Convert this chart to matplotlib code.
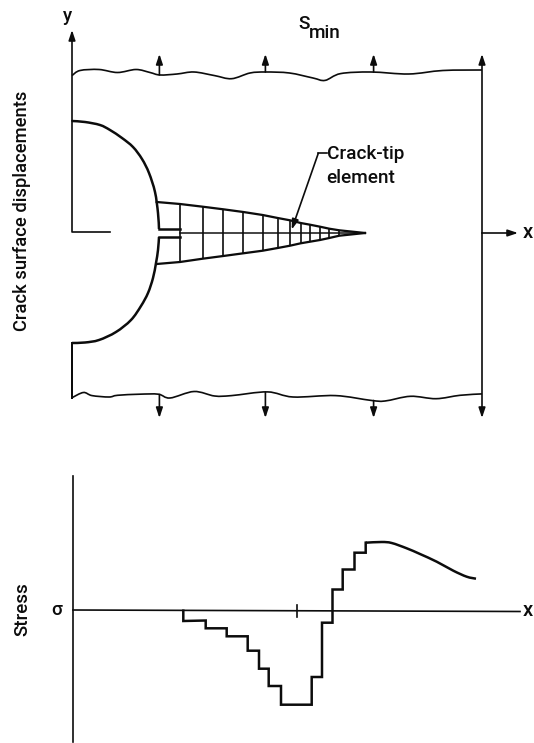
import matplotlib
matplotlib.use('Agg')
import matplotlib.pyplot as plt
from matplotlib.patches import PathPatch
from matplotlib.path import Path
import numpy as np

plt.rcParams['font.family'] = ['Roboto', 'DejaVu Sans']

# everything in pixel coordinates
top_wave_x = [72, 80, 99, 117.5, 136, 150, 160, 177, 194, 214.6, 231.6, 250, 265.7, 289.5, 313, 325, 340.6, 371, 408.7, 442.8, 482]
top_wave_y = [75.6, 70.5, 69.5, 72.5, 69.5, 72.5, 75, 74, 72, 75.6, 78.7, 73, 72, 73, 78, 80.4, 73.6, 72, 74, 70.5, 70]
bot_wave_x = [72, 83.4, 92, 109, 117.5, 139.6, 158.4, 170, 194, 214.6, 231.6, 267.4, 293, 335.5, 371, 385, 410.4, 436, 460, 482]
bot_wave_y = [397.7, 392.5, 395.6, 397, 395.3, 394.2, 394.2, 398, 391.5, 396, 395.6, 391.9, 397, 395.6, 400.4, 401, 396.3, 398.7, 395.3, 393.9]

hole_up_x = [72, 85, 100, 110, 122, 133, 142, 149, 155, 158, 159]
hole_up_y = [121, 122, 125, 130, 138, 147, 159, 173, 192, 213, 229]
hole_lo_x = [159, 158, 156, 153, 148, 141, 131, 116, 99, 85, 72]
hole_lo_y = [237, 250, 263, 278, 293, 306, 320, 332, 340, 342.5, 343]

# mesh nodes along the crack-tip wedge
mesh_x = [156.7, 180, 202.7, 223.3, 243.3, 262.7, 277.7, 290, 300.7, 310, 320, 329.3, 339.3, 365]
mesh_top = [202, 204, 206.7, 209.3, 212, 215, 218, 220.3, 223, 224.7, 226.7, 228.7, 230.3, 233]
mesh_bot = [264, 262, 258.7, 256, 253.3, 250.7, 248, 245.7, 243.3, 241.7, 240, 238, 235.7, 233]

load_x = [159.4, 265.4, 373.6]

# stepped part, then the smooth tail
step_x = [183.3, 183.3, 205.7, 205.7, 226.7, 226.7, 247.7, 247.7, 259, 259, 268.7, 268.7, 281, 281,
          311.7, 311.7, 322, 322, 332.5, 332.5, 342.7, 342.7, 354.5, 354.5, 365.7, 365.7]
step_y = [610.7, 621, 620.5, 628.3, 628.3, 636.3, 636.3, 650.7, 650.7, 668.7, 668.7, 686, 686, 704.7,
          704.7, 677, 677, 622.7, 622.7, 589.5, 589.5, 569.5, 569.5, 552.7, 552.7, 542.7]
tail_x = [365.7, 381.7, 391.7, 406.7, 420, 436.7, 453.3, 466.7, 476]
tail_y = [542.7, 542, 543, 548.3, 554, 561.7, 570.7, 576.7, 578.7]

clr = '#0c0c0c'
lwThin = 1.2
lwBold = 1.8

fig = plt.figure(figsize=(5.34, 7.43), dpi=100)
ax = fig.add_axes([0, 0, 1, 1])
ax.set_xlim(0, 534)
ax.set_ylim(743, 0)
ax.axis('off')


def arrow(x0, y0, x1, y1):
    ax.annotate('', xy=(x1, y1), xytext=(x0, y0),
                arrowprops=dict(arrowstyle='-|>,head_length=0.6,head_width=0.2', color=clr,
                                lw=lwThin, shrinkA=0, shrinkB=0))


def smooth(xs, ys, lw):
    # catmull-rom through the read points, as bezier segments
    pts = np.column_stack([xs, ys]).astype(float)
    pad = np.vstack([pts[0], pts, pts[-1]])
    verts = [pts[0]]
    codes = [Path.MOVETO]
    for i in range(1, len(pad) - 2):
        verts += [pad[i] + (pad[i + 1] - pad[i - 1]) / 6, pad[i + 1] - (pad[i + 2] - pad[i]) / 6, pad[i + 1]]
        codes += [Path.CURVE4] * 3
    ax.add_patch(PathPatch(Path(verts, codes), fill=False, edgecolor=clr, lw=lw))


# plate outline
smooth(top_wave_x, top_wave_y, lwThin)
smooth(bot_wave_x, bot_wave_y, lwThin)
ax.plot([72, 72, 110], [121, 232, 232], color=clr, lw=lwThin)
ax.plot([72, 72], [343, 397.7], color=clr, lw=lwBold * 0.8)
arrow(72, 121, 72, 30)
arrow(482, 233, 482, 54)
arrow(482, 233, 482, 418)
arrow(482, 233, 518, 233)
for x in load_x:
    arrow(x, np.interp(x, top_wave_x, top_wave_y), x, 54)
    arrow(x, np.interp(x, bot_wave_x, bot_wave_y), x, 418)

# hole and slit
smooth(hole_up_x, hole_up_y, lwBold)
smooth(hole_lo_x, hole_lo_y, lwBold)
ax.plot([159, 180], [229, 229], color=clr, lw=lwBold)
ax.plot([159, 180], [237, 237], color=clr, lw=lwBold)

# mesh
ax.plot(mesh_x, mesh_top, color=clr, lw=lwBold * 0.9)
ax.plot(mesh_x, mesh_bot, color=clr, lw=lwBold * 0.9)
ax.plot([180, 365], [232.8, 232.8], color=clr, lw=lwThin * 0.9)
ax.vlines(mesh_x[1:-1], mesh_top[1:-1], mesh_bot[1:-1], color=clr, lw=lwThin)

# leader to the crack-tip element
ax.plot([326.5, 318.3], [153.3, 153.3], color=clr, lw=lwThin)
arrow(318.3, 153.3, 291.7, 229.5)

# stress plot
ax.plot([73, 73], [476, 742], color=clr, lw=lwThin)
ax.plot([73, 520], [610, 611.5], color=clr, lw=lwThin)
ax.plot([296.7, 296.7], [605, 617.3], color=clr, lw=lwThin)
ax.plot(step_x, step_y, color=clr, lw=lwBold, solid_joinstyle='miter')
smooth(tail_x, tail_y, lwBold)

# text
fs = 13.7
ax.text(68, 16, 'y', fontsize=fs, ha='center', va='center', color=clr, fontweight='medium')
ax.text(298, 24, 'S', fontsize=fs, ha='left', va='center', color=clr, fontweight='medium')
ax.text(309, 33, 'min', fontsize=fs, ha='left', va='center', color=clr, fontweight='medium')
ax.text(326.5, 154, 'Crack-tip', fontsize=fs, ha='left', va='center', color=clr, fontweight='medium')
ax.text(326.5, 178, 'element', fontsize=fs, ha='left', va='center', color=clr, fontweight='medium')
ax.text(528, 232, 'x', fontsize=fs + 1, ha='center', va='center', color=clr, fontweight='medium')
ax.text(528, 610, 'x', fontsize=fs + 1, ha='center', va='center', color=clr, fontweight='medium')
ax.text(57, 610, 'σ', fontsize=fs, ha='center', va='center', color=clr, fontweight='medium')
ax.text(22, 211, 'Crack surface displacements', fontsize=13.2, rotation=90, ha='center', va='center', color=clr, fontweight='medium')
ax.text(22, 609, 'Stress', fontsize=13.5, rotation=90, ha='center', va='center', color=clr, fontweight='medium')

fig.savefig('out.png', dpi=100)
